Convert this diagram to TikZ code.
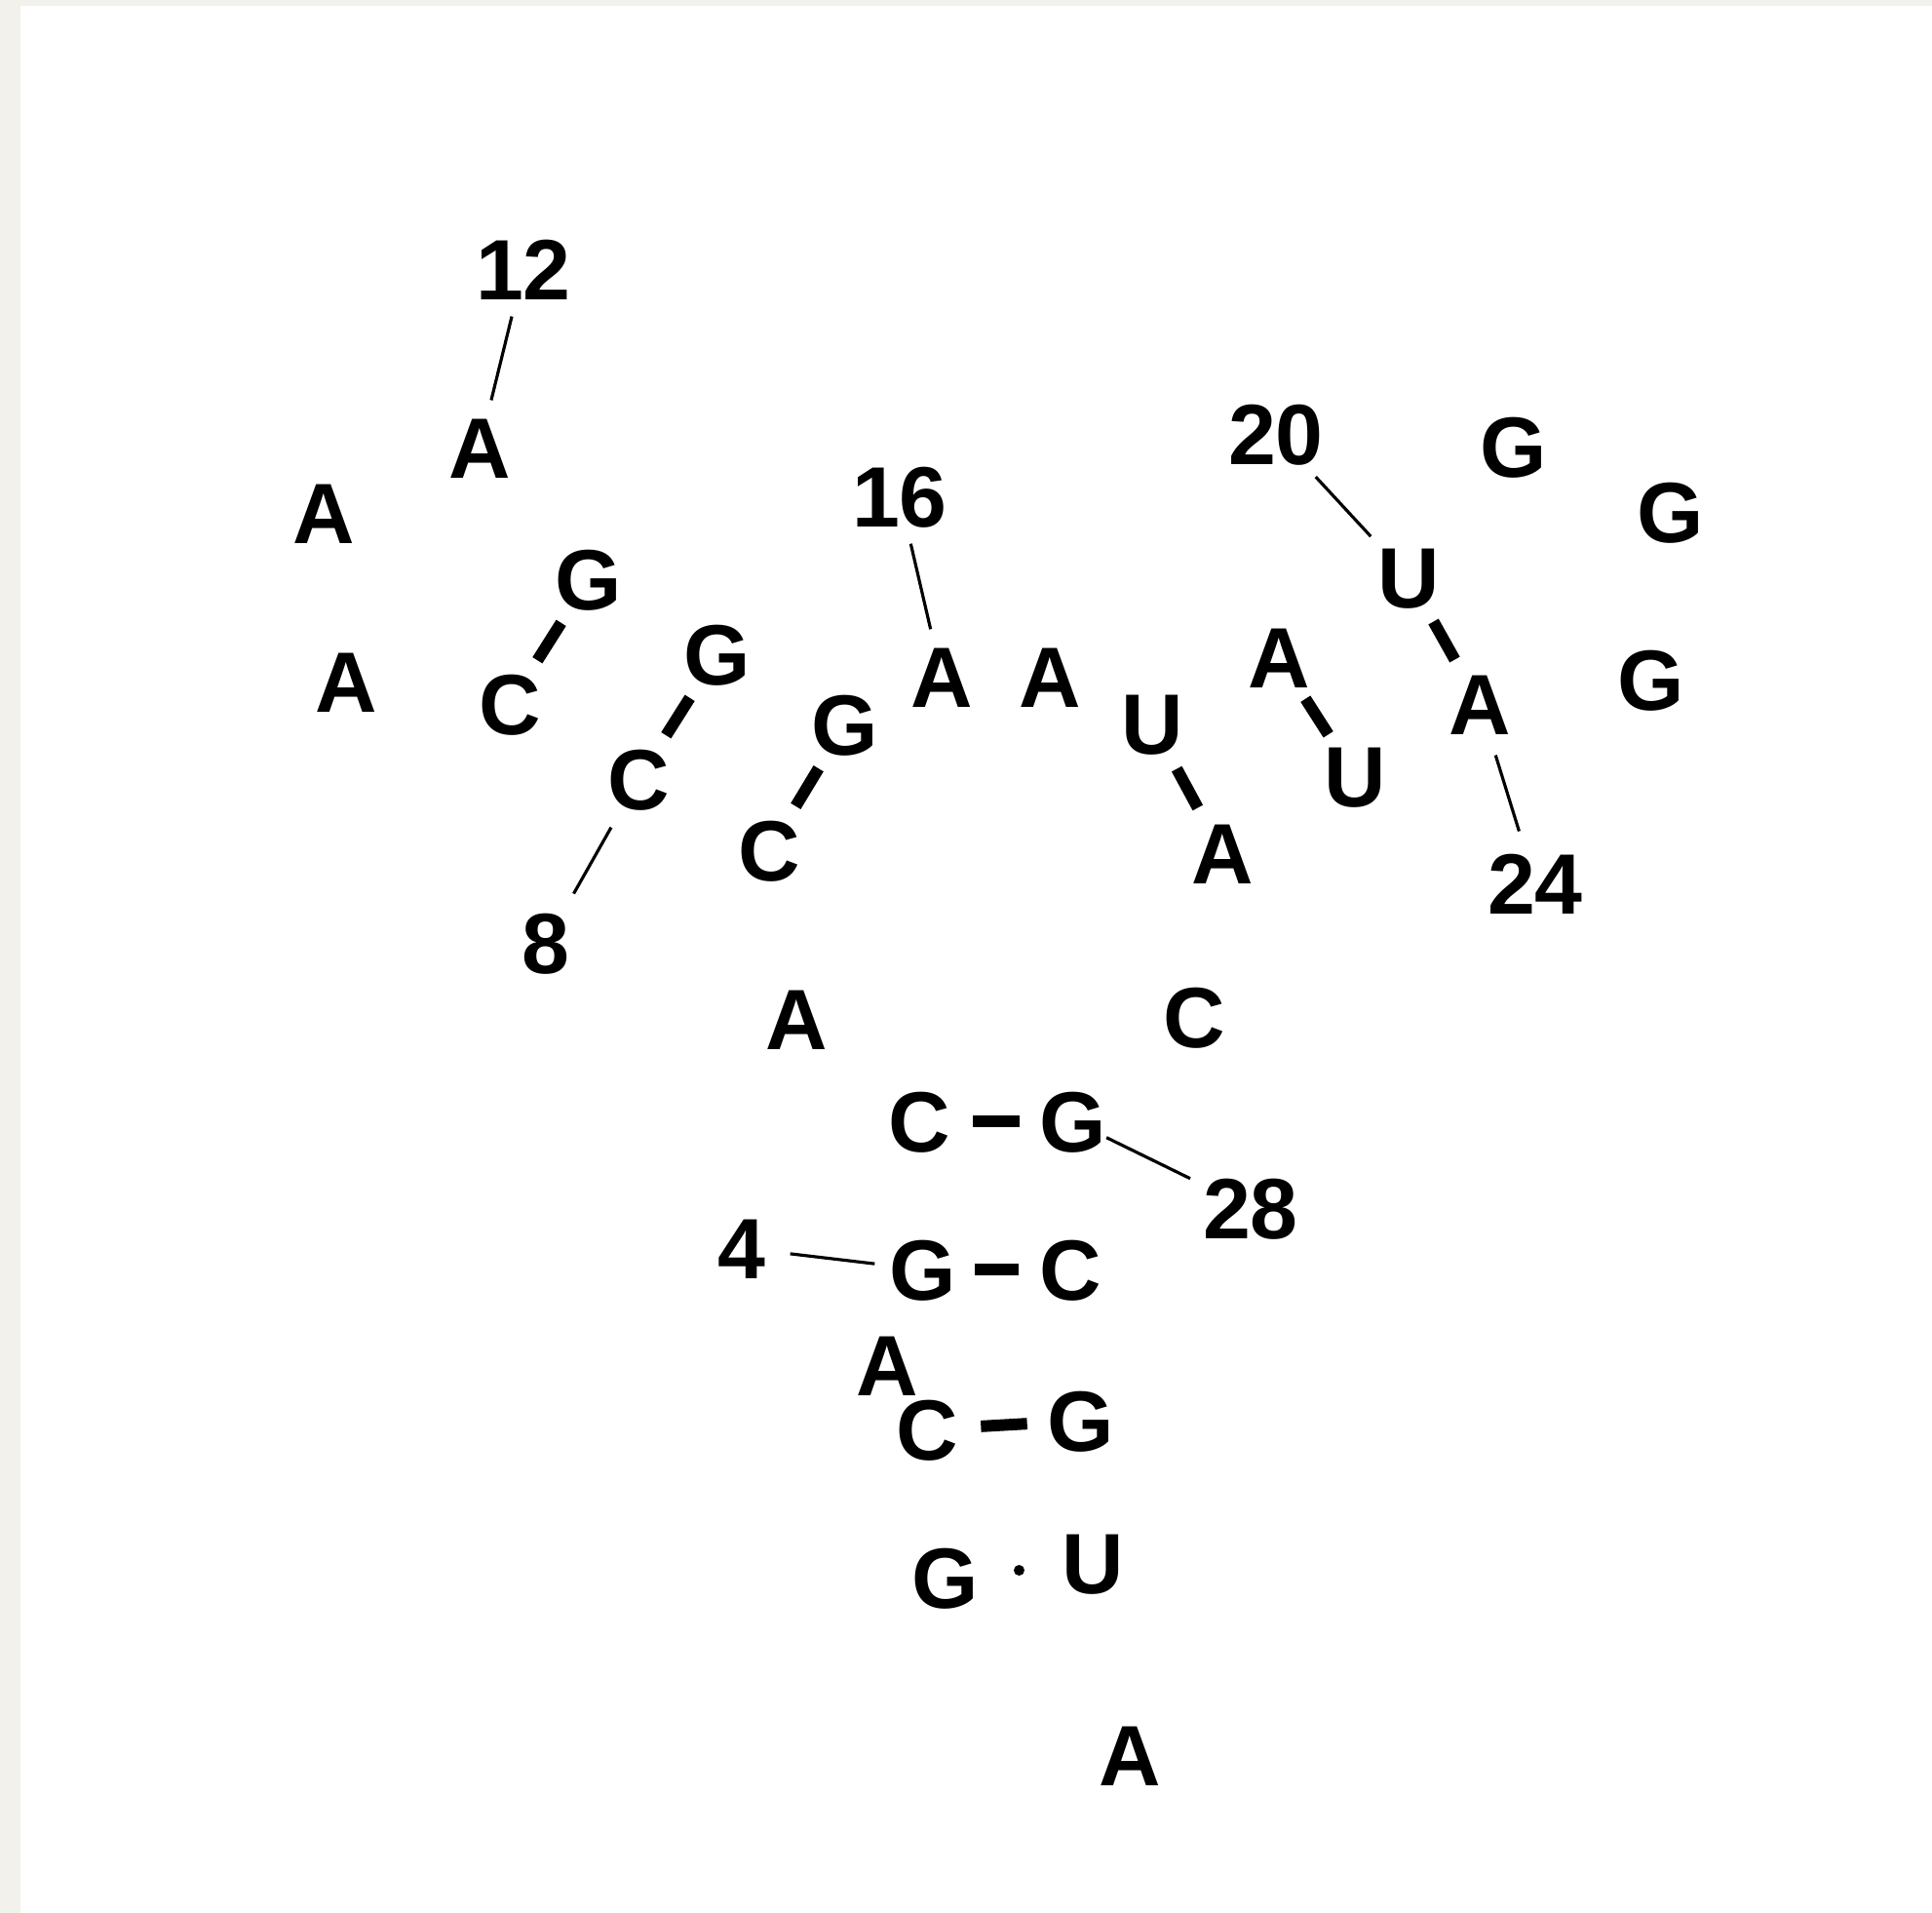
\documentclass[tikz,border=0pt]{standalone}
\usepackage{fontspec}
\setmainfont{Liberation Sans}
\usetikzlibrary{calc}
\definecolor{paper}{HTML}{F3F1EC}
\tikzset{
  base/.style={font=\bfseries\fontsize{25}{25}\selectfont, inner sep=0pt, text height=17.9pt, text depth=0pt},
  numlab/.style={base},
  pairbar/.style={line width=3.4pt},
  tick/.style={line width=0.9pt, shorten <=0.5cm, shorten >=0.5cm}
}
\begin{document}
\begin{tikzpicture}
\useasboundingbox (0,0) rectangle (19.82,-19.62);
\fill[paper] (0,0) rectangle (19.82,-19.62);
\fill[white] (0.21,-0.06) rectangle (19.82,-19.62);
% nucleotides
\node[base] (n1)  at (9.70,-16.18) {G};
\node[base] (n2)  at (9.51,-14.66) {C};
\node[base] (n3)  at (9.10,-14.00) {A};
\node[base] (n4)  at (9.47,-13.02) {G};
\node[base] (n5)  at (9.43,-11.50) {C};
\node[base] (n6)  at (8.17,-10.45) {A};
\node[base] (n7)  at (7.89,-8.72) {C};
\node[base] (n8)  at (6.55,-7.99) {C};
\node[base] (n9)  at (5.23,-7.22) {C};
\node[base] (n10) at (3.55,-6.99) {A};
\node[base] (n11) at (3.32,-5.26) {A};
\node[base] (n12) at (4.92,-4.59) {A};
\node[base] (n13) at (6.04,-5.94) {G};
\node[base] (n14) at (7.36,-6.71) {G};
\node[base] (n15) at (8.67,-7.43) {G};
\node[base] (n16) at (9.66,-6.94) {A};
\node[base] (n17) at (10.77,-6.94) {A};
\node[base] (n18) at (11.82,-7.42) {U};
\node[base] (n19) at (13.12,-6.74) {A};
\node[base] (n20) at (14.45,-5.92) {U};
\node[base] (n21) at (15.53,-4.58) {G};
\node[base] (n22) at (17.14,-5.25) {G};
\node[base] (n23) at (16.94,-6.97) {G};
\node[base] (n24) at (15.18,-7.22) {A};
\node[base] (n25) at (13.90,-7.96) {U};
\node[base] (n26) at (12.54,-8.75) {A};
\node[base] (n27) at (12.25,-10.43) {C};
\node[base] (n28) at (11.01,-11.50) {G};
\node[base] (n29) at (10.98,-13.02) {C};
\node[base] (n30) at (11.09,-14.57) {G};
\node[base] (n31) at (11.21,-16.03) {U};
\node[base] (n32) at (11.59,-18.00) {A};
% position labels
\node[numlab] (l4)  at (7.61,-12.80) {4};
\node[numlab] (l8)  at (5.60,-9.67) {8};
\node[numlab] (l12) at (5.37,-2.76) {12};
\node[numlab] (l16) at (9.23,-5.09) {16};
\node[numlab] (l20) at (13.09,-4.45) {20};
\node[numlab] (l24) at (15.75,-9.06) {24};
\node[numlab] (l28) at (12.83,-12.39) {28};
% label ticks
\draw[tick] (l4.center) -- (n4.center);
\draw[tick, shorten <=0.58cm, shorten >=0.57cm] (l8.center) -- (n8.center);
\draw[tick] (l12.center) -- (n12.center);
\draw[tick] (l16.center) -- (n16.center);
\draw[tick, shorten <=0.6cm, shorten >=0.57cm] (l20.center) -- (n20.center);
\draw[tick, shorten <=0.56cm, shorten >=0.55cm] (l24.center) -- (n24.center);
\draw[tick, shorten <=0.69cm, shorten >=0.38cm] (l28.center) -- (n28.center);
% base pairs
\foreach \a/\b in {n7/n15, n8/n14, n9/n13, n18/n26, n19/n25, n20/n24, n5/n28, n4/n29, n2/n30}{
  \draw[pairbar] ($(\a.center)!0.35!(\b.center)$) -- ($(\a.center)!0.65!(\b.center)$);
}
\fill ($(n1.center)!0.5!(n31.center)$) circle (0.055);
\end{tikzpicture}
\end{document}
